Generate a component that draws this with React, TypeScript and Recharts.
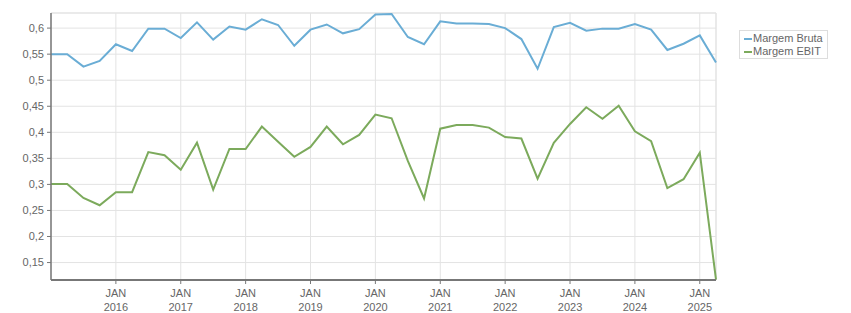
import { LineChart, Line, XAxis, YAxis, CartesianGrid, ReferenceLine } from 'recharts';

// quarterly points, Jan 2015 .. Apr 2025
const margemBruta = [
  0.55, 0.55, 0.526, 0.537, 0.569, 0.556, 0.599, 0.599, 0.581, 0.611,
  0.578, 0.603, 0.597, 0.617, 0.606, 0.566, 0.597, 0.607, 0.59, 0.598,
  0.626, 0.627, 0.583, 0.569, 0.613, 0.609, 0.609, 0.608, 0.6, 0.579,
  0.522, 0.602, 0.61, 0.595, 0.599, 0.599, 0.608, 0.597, 0.558, 0.57,
  0.586, 0.534,
];

const margemEbit = [
  0.301, 0.301, 0.274, 0.26, 0.285, 0.285, 0.362, 0.356, 0.328, 0.38,
  0.29, 0.368, 0.368, 0.411, 0.382, 0.353, 0.372, 0.411, 0.377, 0.395,
  0.434, 0.427, 0.345, 0.273, 0.407, 0.414, 0.414, 0.409, 0.391, 0.388,
  0.311, 0.38, 0.416, 0.448, 0.426, 0.451, 0.402, 0.383, 0.293, 0.31,
  0.361, 0.117,
];

const xTicks = [4, 8, 12, 16, 20, 24, 28, 32, 36, 40];
const yTicks = [0.15, 0.2, 0.25, 0.3, 0.35, 0.4, 0.45, 0.5, 0.55, 0.6];

const series = [
  { key: 'bruta', name: 'Margem Bruta', color: '#6aadd5' },
  { key: 'ebit', name: 'Margem EBIT', color: '#7caa5c' },
];

const data = margemBruta.map((v, i) => ({ i, bruta: v, ebit: margemEbit[i] }));

const FONT = '"Liberation Sans", Arial, sans-serif';

function XTick({ x, y, payload }: any) {
  const year = 2015 + payload.value / 4;
  return (
    <text x={x} y={y} textAnchor="middle" fill="#666" fontSize={11} fontFamily={FONT}>
      <tspan x={x} dy={11}>JAN</tspan>
      <tspan x={x} dy={14}>{year}</tspan>
    </text>
  );
}

export default function App() {
  return (
    <div style={{ position: 'absolute', left: 0, top: 0, width: 851, height: 313, background: '#fff' }}>
      <LineChart width={851} height={313} data={data} margin={{ top: 13, right: 135, left: 0, bottom: 0 }}>
        <CartesianGrid stroke="#e3e3e3" strokeWidth={1} />
        <ReferenceLine y={0.629} stroke="#e3e3e3" />
        <ReferenceLine x={41} stroke="#e3e3e3" />
        <XAxis
          dataKey="i"
          type="number"
          domain={[0, 41]}
          ticks={xTicks}
          interval={0}
          height={33}
          tick={<XTick />}
          tickSize={4}
          tickMargin={2}
          axisLine={{ stroke: '#777', strokeWidth: 2 }}
          tickLine={{ stroke: '#777' }}
        />
        <YAxis
          type="number"
          domain={[0.1165, 0.629]}
          ticks={yTicks}
          interval={0}
          width={51}
          allowDataOverflow
          tickFormatter={(v: number) => String(v).replace('.', ',')}
          tick={{ fill: '#666', fontSize: 11, fontFamily: FONT }}
          tickSize={4}
          tickMargin={3}
          axisLine={{ stroke: '#777', strokeWidth: 1.5 }}
          tickLine={{ stroke: '#777' }}
        />
        {series.map((s) => (
          <Line
            key={s.key}
            type="linear"
            dataKey={s.key}
            name={s.name}
            stroke={s.color}
            strokeWidth={2}
            dot={false}
            isAnimationActive={false}
          />
        ))}
      </LineChart>
      <div
        style={{
          position: 'absolute',
          left: 739,
          top: 30,
          width: 89,
          height: 29,
          boxSizing: 'border-box',
          border: '1px solid #ddd',
          padding: '1px 4px 1px 4px',
          fontFamily: FONT,
          fontSize: 11,
          color: '#666',
          lineHeight: '13px',
          background: '#fff',
        }}
      >
        {series.map((s) => (
          <div key={s.key} style={{ display: 'flex', alignItems: 'center', whiteSpace: 'nowrap' }}>
            <span
              style={{
                width: 8,
                height: 2,
                flexShrink: 0,
                background: s.color,
                marginRight: 1,
                display: 'inline-block',
              }}
            />
            {s.name}
          </div>
        ))}
      </div>
    </div>
  );
}
